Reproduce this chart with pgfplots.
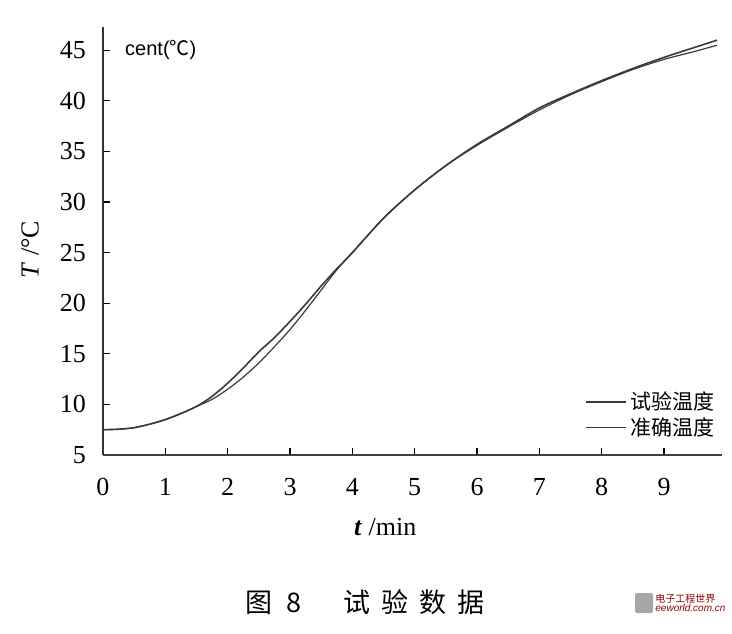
\documentclass[border=0pt]{standalone}
\usepackage{pgfplots}
\pgfplotsset{compat=1.18}
\usepackage{fontspec}
\setmainfont{Liberation Serif}
\setsansfont{Liberation Sans}
\newfontfamily\cjk{Noto Sans CJK SC}
\definecolor{curve}{HTML}{3A3A3A}
\begin{document}
\begin{tikzpicture}
\begin{axis}[
  at={(0,0)}, anchor=south west,
  scale only axis, width=309.5pt, height=214pt,
  xmin=0, xmax=9.93, ymin=5, ymax=47.3,
  axis x line=bottom, axis y line=left,
  axis line style={-, black},
  x axis line style={line width=1.3pt, color=black!75},
  y axis line style={line width=0.9pt, color=black!80},
  xtick={0,1,...,9}, ytick={5,10,...,45},
  tick align=inside, major tick length=3.5pt,
  tick style={black, line width=0.6pt},
  /pgf/number format/assume math mode=true,
  ticklabel style={font=\fontsize{13}{13}\selectfont},
  yticklabel style={xshift=-5pt},
  xticklabel style={yshift=-8pt},
  xlabel={\textbf{\textit{t}} /min},
  xlabel style={font=\fontsize{13}{13}\selectfont, at={(rel axis cs:0.456,0)}, anchor=center, yshift=-36pt},
  ylabel={\textit{T} /°C},
  ylabel style={font=\fontsize{13}{13}\selectfont, at={(rel axis cs:0,0.48)}, anchor=center, yshift=36.5pt},
  legend style={draw=none, fill=none, at={(rel axis cs:1.005,0.02)}, anchor=south east,
    font=\cjk\fontsize{10.5}{12}\selectfont, row sep=-1.5pt},
  legend cell align=right,
  legend image code/.code={\draw[#1] (0cm,0cm) -- (0.7cm,0cm);},
  clip=false,
]
\addplot[curve, line width=0.8pt, smooth] coordinates {
(0,7.5) (0.25,7.55) (0.5,7.7) (0.75,8.05) (1.0,8.5) (1.25,9.1) (1.5,9.8)
(1.75,10.8) (2.0,12.1) (2.25,13.6) (2.5,15.2) (2.75,16.6) (3.0,18.2)
(3.25,19.9) (3.5,21.7) (3.75,23.4) (4.0,25.0) (4.5,28.4) (5.0,31.2)
(5.5,33.6) (6.0,35.7) (6.5,37.5) (7.0,39.3) (7.5,40.7) (8.0,42.0)
(8.5,43.2) (9.0,44.3) (9.5,45.3) (9.85,46.0)
};
\addlegendentry{试验温度}
\addplot[curve, line width=0.6pt, smooth] coordinates {
(0,7.5) (0.25,7.55) (0.5,7.7) (0.75,8.05) (1.0,8.5) (1.25,9.1) (1.5,9.8)
(1.75,10.5) (2.0,11.5) (2.25,12.7) (2.5,14.1) (2.75,15.7) (3.0,17.4)
(3.25,19.3) (3.5,21.3) (3.75,23.3) (4.0,25.0) (4.5,28.4) (5.0,31.2)
(5.5,33.6) (6.0,35.6) (6.5,37.4) (7.0,39.1) (7.5,40.6) (8.0,41.9)
(8.5,43.1) (9.0,44.1) (9.5,44.9) (9.85,45.5)
};
\addlegendentry{准确温度}
\node[anchor=west, font=\sffamily\fontsize{10}{10}\selectfont, inner sep=0pt]
  at (axis cs:0.35,45) {cent({\cjk ℃})};
\node[font=\cjk\fontsize{13.5}{14}\selectfont, anchor=west, inner sep=0pt]
  at ([xshift=71pt, yshift=-73.5pt]rel axis cs:0,0) {图\hspace{7pt}8\hspace{21pt}试\hspace{5.5pt}验\hspace{5.5pt}数\hspace{5.5pt}据};
\fill[black!35, rounded corners=1pt] ([xshift=266pt, yshift=-79pt]rel axis cs:0,0) rectangle ++(9pt,10pt);
\node[anchor=west, font=\cjk\fontsize{5}{5.5}\selectfont, align=left, text=red!55!black, inner sep=0pt]
  at ([xshift=276pt, yshift=-74pt]rel axis cs:0,0) {电子工程世界\\[-1pt]{\sffamily\itshape eeworld.com.cn}};
\end{axis}
\pgfresetboundingbox
\path (-51.5pt,-89pt) rectangle (314.5pt,227.5pt);
\end{tikzpicture}
\end{document}
